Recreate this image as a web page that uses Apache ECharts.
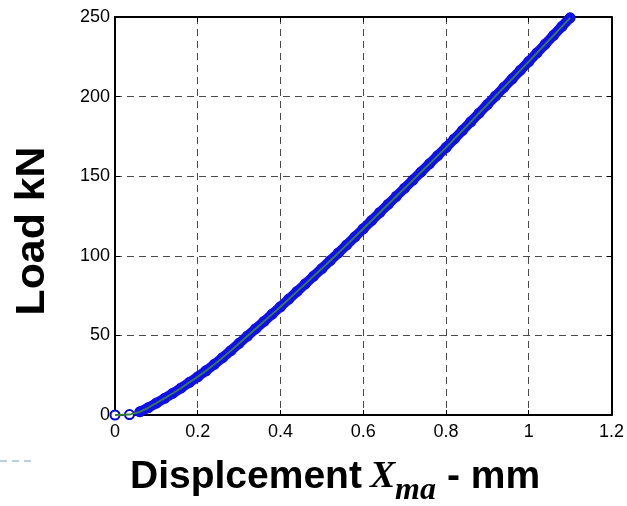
<!DOCTYPE html>
<html>
<head>
<meta charset="utf-8">
<style>
  html, body { margin: 0; padding: 0; background: #fff; }
  #chart { width: 627px; height: 506px; }
</style>
<script src="https://cdn.jsdelivr.net/npm/echarts@6/dist/echarts.min.js"></script>
</head>
<body>
<div id="chart"></div>
<script>
// Load–displacement record (mm, kN)
const displacement = [
  0, 0.035, 0.06, 0.08, 0.10, 0.12, 0.14, 0.16, 0.18, 0.20,
  0.22, 0.24, 0.26, 0.28, 0.30, 0.32, 0.34, 0.36, 0.38, 0.40,
  0.42, 0.44, 0.46, 0.48, 0.50, 0.52, 0.54, 0.56, 0.58, 0.60,
  0.62, 0.64, 0.66, 0.68, 0.70, 0.72, 0.74, 0.76, 0.78, 0.80,
  0.82, 0.84, 0.86, 0.88, 0.90, 0.92, 0.94, 0.96, 0.98, 1.00,
  1.02, 1.04, 1.06, 1.08, 1.10
];
const load = [
  0, 0.3, 2, 4.5, 7.5, 10.5, 13.7, 17, 20.5, 24,
  27.8, 31.8, 36, 40.4, 45, 49.6, 54.2, 58.8, 63.4, 68,
  72.8, 77.6, 82.4, 87.2, 92, 96.9, 101.8, 106.8, 111.9, 117,
  122.1, 127.2, 132.3, 137.4, 142.5, 147.6, 152.7, 157.8, 162.9, 168,
  173.4, 178.8, 184.2, 189.6, 195, 200.4, 205.8, 211.2, 216.6, 222,
  227.5, 233, 238.5, 244, 249.5
];

// Axis ranges and tick spacing
const xRange = [0, 1.2], xStep = 0.2;
const yRange = [0, 250], yStep = 50;

const points = displacement.map((d, i) => [d, load[i]]);

const tickFont = { fontFamily: 'Liberation Sans, Arial, sans-serif', fontSize: 18, color: '#000' };
const gridDash = { type: [7, 5], color: '#4a4a4a', width: 1 };
const frame = { show: true, onZero: false, lineStyle: { color: '#000', width: 2 } };
const innerTick = { show: true, inside: true, length: 5, lineStyle: { color: '#000', width: 1 } };

const chart = echarts.init(document.getElementById('chart'), null, { renderer: 'canvas' });

chart.setOption({
  animation: false,
  backgroundColor: '#fff',
  grid: { left: 115, top: 17, right: 15, bottom: 91, containLabel: false },
  xAxis: [
    {
      type: 'value', min: xRange[0], max: xRange[1], interval: xStep,
      axisLine: frame, axisTick: innerTick,
      axisLabel: Object.assign({ margin: 8 }, tickFont),
      splitLine: { show: true, lineStyle: gridDash }
    },
    {
      type: 'value', position: 'top', min: xRange[0], max: xRange[1], interval: xStep,
      axisLine: frame, axisTick: innerTick, axisLabel: { show: false }, splitLine: { show: false }
    }
  ],
  yAxis: [
    {
      type: 'value', min: yRange[0], max: yRange[1], interval: yStep,
      axisLine: frame, axisTick: innerTick,
      axisLabel: Object.assign({ margin: 5 }, tickFont),
      splitLine: { show: true, lineStyle: gridDash }
    },
    {
      type: 'value', position: 'right', min: yRange[0], max: yRange[1], interval: yStep,
      axisLine: frame, axisTick: innerTick, axisLabel: { show: false }, splitLine: { show: false }
    }
  ],
  series: [
    {
      // measured samples, hollow circle markers
      type: 'line', data: points, z: 2,
      showSymbol: true, symbol: 'emptyCircle', symbolSize: 9,
      itemStyle: { color: '#0000d0', borderWidth: 1.5 },
      lineStyle: { width: 0, opacity: 0 }
    },
    {
      // dense marker band
      type: 'line', data: points.slice(2), z: 3,
      showSymbol: false, symbol: 'none',
      lineStyle: { color: '#1010ec', width: 10, cap: 'round', join: 'round' }
    },
    {
      // trace through the samples
      type: 'line', data: points, z: 4,
      showSymbol: false, symbol: 'none',
      lineStyle: { color: '#37833d', width: 1.8 }
    }
  ],
  graphic: [
    {
      type: 'text', x: 33, y: 231, rotation: Math.PI / 2, scaleX: 1.07,
      style: {
        text: 'Load kN', fill: '#000',
        font: 'bold 40px "Liberation Sans", Arial, sans-serif',
        align: 'center', verticalAlign: 'middle'
      }
    },
    {
      type: 'text', x: 130, y: 477,
      style: {
        text: 'Displcement', fill: '#000',
        font: 'bold 39px "Liberation Sans", Arial, sans-serif',
        align: 'left', verticalAlign: 'middle'
      }
    },
    {
      type: 'text', x: 370, y: 477,
      style: {
        text: 'X', fill: '#000',
        font: 'italic bold 38px "Liberation Serif", "Times New Roman", serif',
        align: 'left', verticalAlign: 'middle'
      }
    },
    {
      type: 'text', x: 395, y: 491,
      style: {
        text: 'ma', fill: '#000',
        font: 'italic bold 32px "Liberation Serif", "Times New Roman", serif',
        align: 'left', verticalAlign: 'middle'
      }
    },
    {
      type: 'text', x: 447, y: 477,
      style: {
        text: '- mm', fill: '#000',
        font: 'bold 39px "Liberation Sans", Arial, sans-serif',
        align: 'left', verticalAlign: 'middle'
      }
    },
    {
      type: 'line',
      shape: { x1: 0, y1: 461, x2: 31, y2: 461 },
      style: { stroke: '#a9bfd8', lineWidth: 1.5, lineDash: [7, 5] }
    }
  ]
});
</script>
</body>
</html>
